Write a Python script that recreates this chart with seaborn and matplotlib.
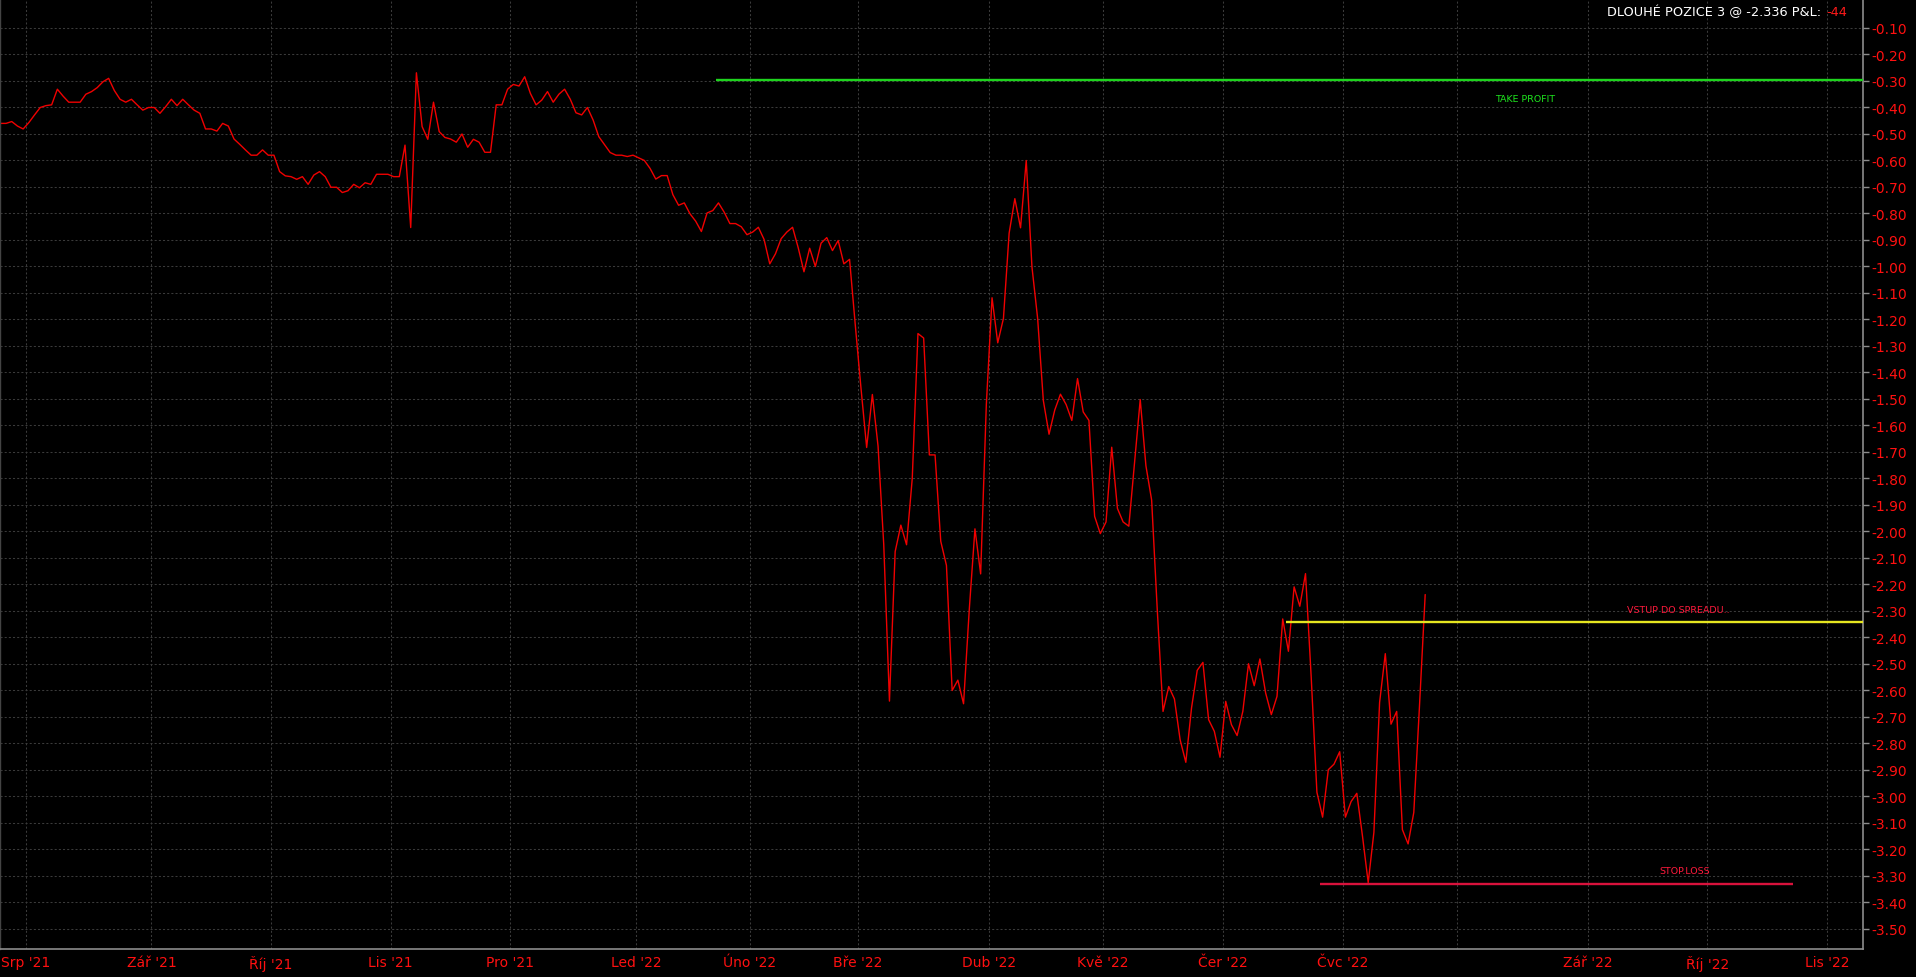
import numpy as np
import pandas as pd
import matplotlib
matplotlib.use("Agg")
import matplotlib.pyplot as plt
import matplotlib.transforms as mtransforms
import seaborn as sns

# ---------------- data ----------------
start_date = "2021-07-26"   # first trading day shown (index 0)
holidays = ["2021-09-06", "2021-11-25", "2021-12-24", "2022-01-17", "2022-02-21",
            "2022-04-15", "2022-05-30", "2022-06-20", "2022-07-04", "2022-09-05"]

spread = [
    -0.46, -0.46, -0.453, -0.47, -0.481, -0.457, -0.428, -0.40, -0.393, -0.39,
    -0.331, -0.357, -0.38, -0.38, -0.38, -0.35, -0.34, -0.325, -0.303, -0.29,
    -0.336, -0.369, -0.38, -0.369, -0.39, -0.41, -0.40, -0.40, -0.422, -0.397,
    -0.369, -0.393, -0.369, -0.39, -0.41, -0.422, -0.481, -0.481, -0.489, -0.46,
    -0.47, -0.519, -0.539, -0.56, -0.58, -0.58, -0.56, -0.58, -0.58, -0.642,
    -0.658, -0.661, -0.671, -0.661, -0.69, -0.655, -0.642, -0.661, -0.701, -0.701,
    -0.721, -0.714, -0.69, -0.703, -0.684, -0.69, -0.652, -0.652, -0.652, -0.661,
    -0.661, -0.542, -0.853, -0.269, -0.472, -0.52, -0.38, -0.491, -0.513, -0.519,
    -0.531, -0.50, -0.55, -0.52, -0.531, -0.569, -0.569, -0.39, -0.39, -0.331,
    -0.313, -0.319, -0.284, -0.347, -0.39, -0.372, -0.34, -0.38, -0.35, -0.331,
    -0.369, -0.42, -0.428, -0.40, -0.447, -0.51, -0.54, -0.57, -0.58, -0.58,
    -0.585, -0.58, -0.59, -0.60, -0.63, -0.67, -0.657, -0.657, -0.729, -0.769,
    -0.76, -0.801, -0.829, -0.868, -0.798, -0.789, -0.76, -0.795, -0.838, -0.838,
    -0.85, -0.88, -0.87, -0.852, -0.898, -0.99, -0.952, -0.895, -0.87, -0.852,
    -0.93, -1.02, -0.931, -1.00, -0.912, -0.891, -0.94, -0.902, -0.99, -0.973,
    -1.22, -1.458, -1.683, -1.483, -1.678, -2.05, -2.64, -2.076, -1.976, -2.05,
    -1.80, -1.253, -1.27, -1.711, -1.711, -2.037, -2.128, -2.60, -2.561, -2.65,
    -2.296, -1.99, -2.16, -1.52, -1.118, -1.288, -1.196, -0.874, -0.744, -0.854,
    -0.60, -1.001, -1.196, -1.506, -1.633, -1.542, -1.482, -1.521, -1.581, -1.423,
    -1.549, -1.581, -1.943, -2.008, -1.964, -1.682, -1.913, -1.964, -1.98, -1.741,
    -1.502, -1.752, -1.881, -2.30, -2.679, -2.585, -2.632, -2.786, -2.871, -2.666,
    -2.524, -2.494, -2.71, -2.754, -2.852, -2.641, -2.729, -2.77, -2.679, -2.499,
    -2.582, -2.481, -2.609, -2.691, -2.622, -2.33, -2.452, -2.209, -2.282, -2.159,
    -2.55, -2.984, -3.078, -2.899, -2.878, -2.831, -3.078, -3.019, -2.988, -3.15,
    -3.325, -3.135, -2.645, -2.461, -2.727, -2.679, -3.125, -3.179, -3.06, -2.658,
    -2.238,
]

tick_months = ["2021-08-01", "2021-09-01", "2021-10-01", "2021-11-01", "2021-12-01",
               "2022-01-01", "2022-02-01", "2022-03-01", "2022-04-01", "2022-05-01",
               "2022-06-01", "2022-07-01", "2022-08-01", "2022-09-01", "2022-10-01",
               "2022-11-01"]
tick_labels = ["Srp '21", "Zář '21", "Říj '21", "Lis '21", "Pro '21", "Led '22",
               "Úno '22", "Bře '22", "Dub '22", "Kvě '22", "Čer '22", "Čvc '22",
               "", "Zář '22", "Říj '22", "Lis '22"]

level_names = ["TAKE PROFIT", "VSTUP DO SPREADU..", "STOP.LOSS"]
level_values = [-0.295, -2.34, -3.33]
level_start = ["2022-01-24", "2022-06-16", "2022-06-27"]
level_end = [None, None, "2022-10-24"]
level_colors = ["#1ed41e", "#e6e620", "#d8123c"]
label_colors = ["#1ee61e", "#ff1a3c", "#ff1a3c"]

position_name = "DLOUHÉ POZICE 3"
entry_price = -2.336
pnl = -44

y_ticks = np.round(np.arange(-3.5, -0.05, 0.1), 2)

# ---------------- helpers ----------------
hol = np.array(holidays, dtype="datetime64[D]")
d0 = np.datetime64(start_date)


def tidx(d):
    first = np.busday_offset(np.datetime64(d), 0, roll="forward", holidays=hol)
    return int(np.busday_count(d0, first, holidays=hol))


tick_pos = [tidx(m) for m in tick_months]
df = pd.DataFrame({"x": np.arange(len(spread)) + 0.5, "spread": spread})

# ---------------- style ----------------
sns.set_theme(style="dark", rc={
    "figure.facecolor": "black",
    "axes.facecolor": "black",
    "savefig.facecolor": "black",
})
plt.rcParams["font.family"] = ["DejaVu Sans"]

W, H = 1916, 978
fig = plt.figure(figsize=(W / 100, H / 100), dpi=100)
ax_right_px, ax_bottom_px = 1863, 950
ax = fig.add_axes([0, 1 - ax_bottom_px / H, ax_right_px / W, ax_bottom_px / H])
ax.set_facecolor("black")

sns.lineplot(data=df, x="x", y="spread", ax=ax, color="#f00000", linewidth=1.0)

# x scale: match tick spacing of the reference
scale = (1827 - 26) / (tick_pos[-1] - tick_pos[0])
x_left = tick_pos[0] - 26 / scale
x_right = tick_pos[0] + (ax_right_px - 26) / scale
ax.set_xlim(x_left, x_right)
ax.set_ylim(-3.5755, 0.0094)

# levels
blend = mtransforms.blended_transform_factory(ax.transAxes, ax.transData)
label_xfrac = [1525 / 1863, 1678 / 1863, 1685 / 1863]
label_off = [-13.5, 8.6, 9.4]
for name, val, s, e, c, lc, fx, off in zip(level_names, level_values, level_start,
                                          level_end, level_colors, label_colors,
                                          label_xfrac, label_off):
    xs = tidx(s)
    xe = tidx(e) if e else x_right
    ax.plot([xs, xe], [val, val], color=c, linewidth=1.7, solid_capstyle="butt", zorder=3)
    ax.annotate(name, xy=(fx, val), xycoords=blend, xytext=(0, off),
                textcoords="offset points", ha="center", va="center",
                color=lc, fontsize=6.8)

# axes decoration
ax.set_xticks(tick_pos)
ax.set_xticklabels(tick_labels)
ax.set_yticks(y_ticks)
ax.set_yticklabels([f"{v:.2f}" for v in y_ticks])
ax.yaxis.tick_right()
ax.set_xlabel("")
ax.set_ylabel("")
ax.tick_params(axis="both", colors="#8c8c8c", labelcolor="#ff1010", labelsize=10,
               length=4, width=1, direction="out")
ax.tick_params(axis="y", pad=2)
ax.tick_params(axis="x", pad=0.5)
ax.grid(True, color="#3a3a3a", linestyle=(0, (2, 2)), linewidth=0.75)
ax.spines["top"].set_visible(False)
for side in ["bottom", "right"]:
    ax.spines[side].set_visible(True)
    ax.spines[side].set_color("#8c8c8c")
    ax.spines[side].set_linewidth(1.2)
ax.spines["left"].set_visible(True)
ax.spines["left"].set_color("#444444")
ax.spines["left"].set_linewidth(1.0)

# header text (two colours)
fig.canvas.draw()
renderer = fig.canvas.get_renderer()
t_red = fig.text(1847 / W, 1 - 12 / H, f"{pnl}", color="#ff1a1a", fontsize=9.3,
                 ha="right", va="center")
bb = t_red.get_window_extent(renderer=renderer)
fig.text((bb.x0 - 1) / W, 1 - 12 / H,
         f"{position_name} @ {entry_price:.3f} P&L: ", color="white", fontsize=9.3,
         ha="right", va="center")

fig.savefig("out.png", dpi=100, facecolor="black")
